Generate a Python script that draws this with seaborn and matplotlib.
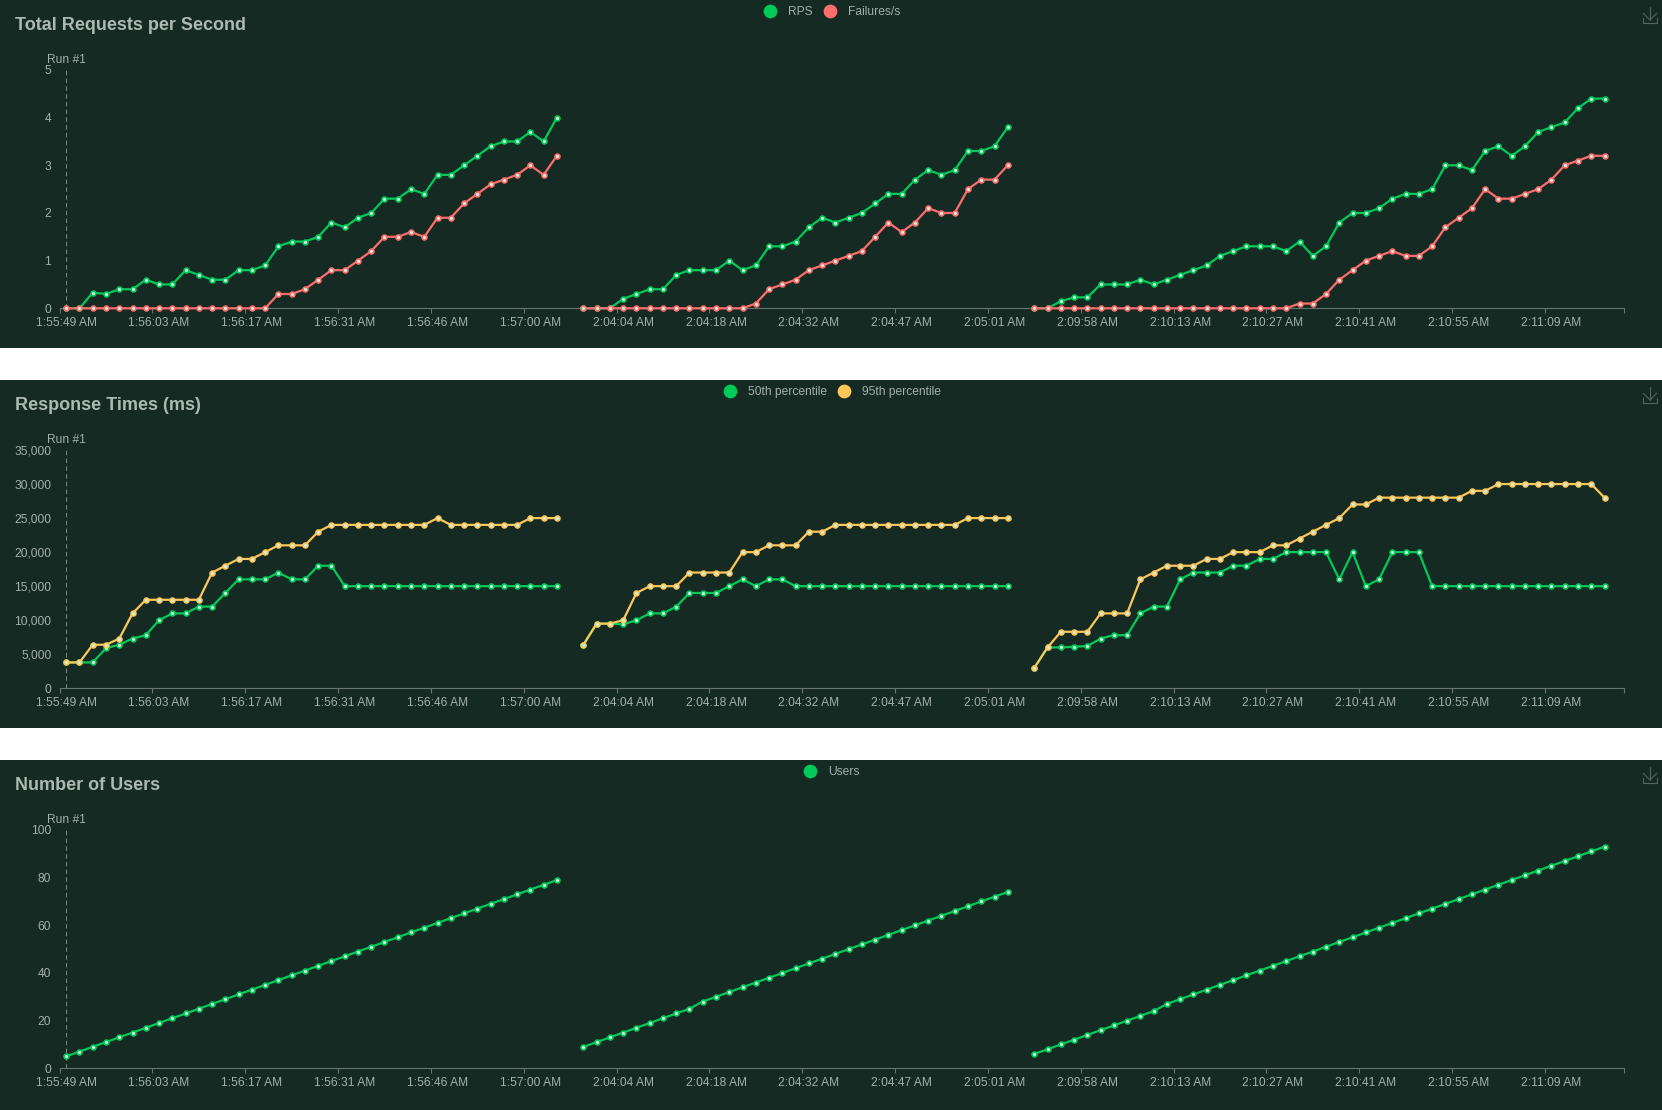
import numpy as np
import pandas as pd
import seaborn as sns
import matplotlib
matplotlib.use("Agg")
import matplotlib.pyplot as plt
from matplotlib.lines import Line2D
from matplotlib.patches import Rectangle

# ---- data ----
rps_run1 = [0,0,0.33,0.3,0.4,0.4,0.6,0.5,0.5,0.8,0.7,0.6,0.6,0.8,0.8,0.9,1.3,1.4,1.4,1.5,1.8,1.7,1.9,2.0,2.3,2.3,2.5,2.4,2.8,2.8,3.0,3.2,3.4,3.5,3.5,3.7,3.5,4.0]
rps_run2 = [0,0,0,0.2,0.3,0.4,0.4,0.7,0.8,0.8,0.8,1.0,0.8,0.9,1.3,1.3,1.4,1.7,1.9,1.8,1.9,2.0,2.2,2.4,2.4,2.7,2.9,2.8,2.9,3.3,3.3,3.4,3.8]
rps_run3 = [0,0,0.15,0.23,0.23,0.5,0.5,0.5,0.6,0.5,0.6,0.7,0.8,0.9,1.1,1.2,1.3,1.3,1.3,1.2,1.4,1.1,1.3,1.8,2.0,2.0,2.1,2.3,2.4,2.4,2.5,3.0,3.0,2.9,3.3,3.4,3.2,3.4,3.7,3.8,3.9,4.2,4.4,4.4]
fail_run1 = [0,0,0,0,0,0,0,0,0,0,0,0,0,0,0,0,0.3,0.3,0.4,0.6,0.8,0.8,1.0,1.2,1.5,1.5,1.6,1.5,1.9,1.9,2.2,2.4,2.6,2.7,2.8,3.0,2.8,3.2]
fail_run2 = [0,0,0,0,0,0,0,0,0,0,0,0,0,0.1,0.4,0.5,0.6,0.8,0.9,1.0,1.1,1.2,1.5,1.8,1.6,1.8,2.1,2.0,2.0,2.5,2.7,2.7,3.0]
fail_run3 = [0,0,0,0,0,0,0,0,0,0,0,0,0,0,0,0,0,0,0,0,0.1,0.1,0.3,0.6,0.8,1.0,1.1,1.2,1.1,1.1,1.3,1.7,1.9,2.1,2.5,2.3,2.3,2.4,2.5,2.7,3.0,3.1,3.2,3.2]
p50_run1 = [3800,3800,3800,5900,6400,7300,7800,10000,11000,11000,12000,12000,14000,16000,16000,16000,17000,16000,16000,18000,18000,15000,15000,15000,15000,15000,15000,15000,15000,15000,15000,15000,15000,15000,15000,15000,15000,15000]
p50_run2 = [6400,9500,9500,9400,10000,11000,11000,12000,14000,14000,14000,15000,16000,15000,16000,16000,15000,15000,15000,15000,15000,15000,15000,15000,15000,15000,15000,15000,15000,15000,15000,15000,15000]
p50_run3 = [3000,6000,6000,6100,6200,7300,7800,7800,11000,12000,12000,16000,17000,17000,17000,18000,18000,19000,19000,20000,20000,20000,20000,16000,20000,15000,16000,20000,20000,20000,15000,15000,15000,15000,15000,15000,15000,15000,15000,15000,15000,15000,15000,15000]
p95_run1 = [3800,3800,6400,6400,7300,11000,13000,13000,13000,13000,13000,17000,18000,19000,19000,20000,21000,21000,21000,23000,24000,24000,24000,24000,24000,24000,24000,24000,25000,24000,24000,24000,24000,24000,24000,25000,25000,25000]
p95_run2 = [6400,9500,9500,10000,14000,15000,15000,15000,17000,17000,17000,17000,20000,20000,21000,21000,21000,23000,23000,24000,24000,24000,24000,24000,24000,24000,24000,24000,24000,25000,25000,25000,25000]
p95_run3 = [3000,6000,8300,8300,8300,11000,11000,11000,16000,17000,18000,18000,18000,19000,19000,20000,20000,20000,21000,21000,22000,23000,24000,25000,27000,27000,28000,28000,28000,28000,28000,28000,28000,29000,29000,30000,30000,30000,30000,30000,30000,30000,30000,28000]
users_run1 = [5,7,9,11,13,15,17,19,21,23,25,27,29,31,33,35,37,39,41,43,45,47,49,51,53,55,57,59,61,63,65,67,69,71,73,75,77,79]
users_run2 = [9,11,13,15,17,19,21,23,25,28,30,32,34,36,38,40,42,44,46,48,50,52,54,56,58,60,62,64,66,68,70,72,74]
users_run3 = [6,8,10,12,14,16,18,20,22,24,27,29,31,33,35,37,39,41,43,45,47,49,51,53,55,57,59,61,63,65,67,69,71,73,75,77,79,81,83,85,87,89,91,93]
run_starts = [0, 39, 73]
n_slots = 118
tick_labels = ["1:55:49 AM","1:56:03 AM","1:56:17 AM","1:56:31 AM","1:56:46 AM","1:57:00 AM",
               "2:04:04 AM","2:04:18 AM","2:04:32 AM","2:04:47 AM","2:05:01 AM",
               "2:09:58 AM","2:10:13 AM","2:10:27 AM","2:10:41 AM","2:10:55 AM","2:11:09 AM"]
tick_slots = [0,7,14,21,28,35,42,49,56,63,70,77,84,91,98,105,112]

panels = [
    ("Total Requests per Second", [0,1,2,3,4,5], 5,
     [("RPS", "#00ca5a", (rps_run1,rps_run2,rps_run3)),
      ("Failures/s", "#ff6d6d", (fail_run1,fail_run2,fail_run3))]),
    ("Response Times (ms)", [0,5000,10000,15000,20000,25000,30000,35000], 35000,
     [("50th percentile", "#00ca5a", (p50_run1,p50_run2,p50_run3)),
      ("95th percentile", "#ffc658", (p95_run1,p95_run2,p95_run3))]),
    ("Number of Users", [0,20,40,60,80,100], 100,
     [("Users", "#00ca5a", (users_run1,users_run2,users_run3))]),
]

# ---- style ----
W, H = 1662, 1110
BG = "#152a22"
TXT = "#a2b1aa"
TITLE = "#abbab3"
AXC = "#66766f"
sns.set_theme(style="white")
plt.rcParams["font.family"] = ["Liberation Sans", "DejaVu Sans"]
fs = 8.64

fig = plt.figure(figsize=(W/100, H/100), dpi=100, facecolor="white")

def fx(px): return px / W
def fy(py): return 1 - py / H

for k, (title, yticks, ymax, series) in enumerate(panels):
    off = 380 * k
    ph = 350 if k == 2 else 348
    fig.add_artist(Rectangle((0, fy(off + ph)), 1, ph / H, transform=fig.transFigure,
                             facecolor=BG, edgecolor="none", zorder=-5))
    top, bot = 70 + off, 308.3 + off
    L, R = 59.6, 1624.4
    ax = fig.add_axes([fx(L), fy(bot), fx(R - L), (bot - top) / H])
    ax.patch.set_alpha(0)
    for name, color, runs in series:
        for start, vals in zip(run_starts, runs):
            d = pd.DataFrame({"slot": np.arange(start, start + len(vals)), "value": vals})
            sns.lineplot(data=d, x="slot", y="value", ax=ax, color=color, lw=1.6,
                         marker="o", ms=3.5, mfc="#cfeedd", mec=color, mew=1.2,
                         errorbar=None, estimator=None, clip_on=False, zorder=3)
    ax.set_xlim(-0.5, n_slots - 0.5)
    ax.set_ylim(0, ymax)
    ax.set_xlabel(""); ax.set_ylabel("")
    ax.axvline(0, color="#7d8c86", lw=0.7, ls=(0, (4.5, 3.5)), zorder=1)
    for s in ["top", "left", "right"]:
        ax.spines[s].set_visible(False)
    ax.spines["bottom"].set_color(AXC)
    ax.spines["bottom"].set_linewidth(0.8)
    ax.set_yticks(yticks)
    ax.set_yticklabels([f"{v:,}" for v in yticks], fontsize=fs, color=TXT)
    ax.tick_params(axis="y", length=0, pad=6)
    # major ticks on the band edges, labels at the slots
    ax.set_xticks([s - 0.5 for s in tick_slots] + [n_slots - 0.5])
    ax.set_xticklabels([""] * (len(tick_slots) + 1))
    ax.set_xticks(tick_slots, labels=tick_labels, minor=True)
    ax.tick_params(axis="x", which="major", length=3.6, width=0.8, color=AXC, bottom=True)
    ax.tick_params(axis="x", which="minor", length=0, pad=6.3, labelsize=fs, labelcolor=TXT)
    ax.annotate("Run #1", xy=(0, 1), xycoords=("data", "axes fraction"), xytext=(0, 3),
                textcoords="offset points", ha="center", va="bottom", fontsize=fs, color=TXT)
    fig.text(fx(15), fy(25.3 + off), title, fontsize=13, fontweight="bold", color=TITLE,
             ha="left", va="center")
    handles = [Line2D([], [], ls="none", marker="o", ms=9.9, mfc=c, mec="none", label=n)
               for n, c, _ in series]
    leg = ax.legend(handles=handles, loc="center", ncol=len(handles), frameon=False,
                    bbox_to_anchor=(fx(832), fy(12.3 + off)), bbox_transform=fig.transFigure,
                    fontsize=fs, handlelength=1.0, handletextpad=1.0, columnspacing=0.92,
                    borderpad=0, borderaxespad=0, labelcolor=TXT)
    # download icon
    ic = "#56665f"
    for xs, ys in [([1650, 1650], [6.7, 20]),
                   ([1643.3, 1650, 1656.7], [13.3, 20, 13.3]),
                   ([1643.3, 1643.3, 1656.7, 1656.7], [18.3, 22.7, 22.7, 18.3])]:
        fig.add_artist(Line2D([fx(x) for x in xs], [fy(y + off) for y in ys],
                              transform=fig.transFigure, color=ic, lw=0.8))

fig.savefig("out.png", dpi=100, facecolor="white")
